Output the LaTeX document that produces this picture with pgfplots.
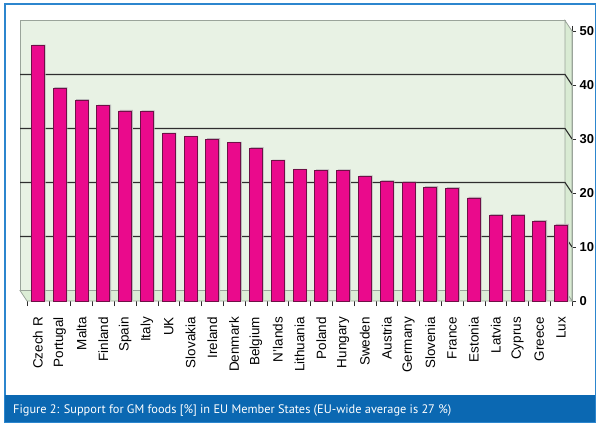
\documentclass[border=0pt]{standalone}
\usepackage{fontspec}
\setmainfont{Liberation Sans}
\newfontfamily\capfont{PT Sans}
\newcommand\xlab{\fontsize{13.5}{15}\selectfont}
\newcommand\ylab{\fontsize{13}{15}\selectfont\bfseries}
\usepackage{pgfplots}
\pgfplotsset{compat=1.18}
\definecolor{framebl}{HTML}{2C86CE}
\definecolor{capbl}{HTML}{0B68B2}
\definecolor{wall}{HTML}{E8F2E4}
\definecolor{sidewall}{HTML}{D9EBD3}
\definecolor{floorc}{HTML}{DCEDD6}
\definecolor{edgec}{HTML}{9AA49A}
\definecolor{barc}{HTML}{EA0A8C}
\definecolor{baredge}{HTML}{6E1046}
\definecolor{gridc}{HTML}{2E2E2E}
\begin{document}
\begin{tikzpicture}[x=1bp,y=1bp]
\fill[white] (0,0) rectangle (600,426);
\fill[white, draw=framebl, line width=1.6bp] (4.8,4.3) rectangle (595.4,421.7);
\fill[capbl] (4.8,4.3) rectangle (595.4,31);
\node[anchor=base west, inner sep=0pt, text=white, font=\capfont\fontsize{12.4}{14}\selectfont] at (13,13) {Figure 2: Support for GM foods [\%] in EU Member States (EU-wide average is 27 \%)};
\begin{axis}[
  at={(27bp,125bp)}, anchor=south west,
  scale only axis, width=545bp, height=270bp,
  xmin=-0.5, xmax=24.5, ymin=0, ymax=50,
  clip=false,
  axis line style={draw=none},
  xtick={0,...,24},
  xticklabels={\xlab Czech R,\xlab Portugal,\xlab Malta,\xlab Finland,\xlab Spain,\xlab Italy,\xlab UK,\xlab Slovakia,\xlab Ireland,\xlab Denmark,\xlab Belgium,\xlab N'lands,\xlab Lithuania,\xlab Poland,\xlab Hungary,\xlab Sweden,\xlab Austria,\xlab Germany,\xlab Slovenia,\xlab France,\xlab Estonia,\xlab Latvia,\xlab Cyprus,\xlab Greece,\xlab Lux},
  minor xtick={-0.5,0.5,...,24.5},
  xtick style={draw=none},
  minor x tick style={draw=gridc, line width=0.6bp},
  minor tick length=5bp,
  tick align=outside,
  x tick label style={rotate=90, anchor=east, inner sep=0pt, xshift=-12bp},
  ytick={0,10,...,50},
  yticklabel={\ylab\pgfmathprintnumber{\tick}},
  ytick pos=right, yticklabel pos=right,
  y tick style={draw=gridc, line width=0.6bp},
  major tick length=4bp,
  y tick label style={inner sep=0pt, xshift=3.5bp},
  /pgf/number format/assume math mode=true,
]
% walls
\fill[wall, draw=edgec, line width=0.8bp] ([xshift=-7bp,yshift=10.5bp]axis cs:-0.5,0) rectangle ([xshift=-7bp,yshift=10.5bp]axis cs:24.5,50);
\fill[sidewall, draw=edgec, line width=0.8bp] ([xshift=-7bp,yshift=10.5bp]axis cs:24.5,0) -- ([xshift=-7bp,yshift=10.5bp]axis cs:24.5,50) -- (axis cs:24.5,50) -- (axis cs:24.5,0) -- cycle;
\fill[floorc, draw=edgec, line width=0.8bp] ([xshift=-7bp,yshift=10.5bp]axis cs:-0.5,0) -- ([xshift=-7bp,yshift=10.5bp]axis cs:24.5,0) -- (axis cs:24.5,0) -- (axis cs:-0.5,0) -- cycle;
\pgfplotsinvokeforeach{10,20,30,40}{
  \draw[gridc, line width=1.1bp] ([xshift=-7bp,yshift=10.5bp]axis cs:-0.5,#1) -- ([xshift=-7bp,yshift=10.5bp]axis cs:24.5,#1) -- (axis cs:24.5,#1);
}
\addplot[ybar, bar width=13bp, bar shift=1.2bp, fill=gray!55, draw=none, yshift=1bp] coordinates {
(0,47.3) (1,39.4) (2,37.2) (3,36.2) (4,35.2) (5,35.1) (6,31.0) (7,30.4) (8,30.0) (9,29.3) (10,28.3) (11,26.0) (12,24.3) (13,24.2) (14,24.2) (15,23.1) (16,22.2) (17,22.0) (18,21.1) (19,20.9) (20,19.1) (21,15.9) (22,15.9) (23,14.8) (24,14.1)};
\addplot[ybar, bar width=13bp, bar shift=0pt, fill=barc, draw=baredge, line width=0.7bp] coordinates {
(0,47.3) (1,39.4) (2,37.2) (3,36.2) (4,35.2) (5,35.1) (6,31.0) (7,30.4) (8,30.0) (9,29.3) (10,28.3) (11,26.0) (12,24.3) (13,24.2) (14,24.2) (15,23.1) (16,22.2) (17,22.0) (18,21.1) (19,20.9) (20,19.1) (21,15.9) (22,15.9) (23,14.8) (24,14.1)};
\draw[edgec, line width=0.8bp] (axis cs:24.5,0) -- (axis cs:24.5,50);
\end{axis}
\end{tikzpicture}
\end{document}
